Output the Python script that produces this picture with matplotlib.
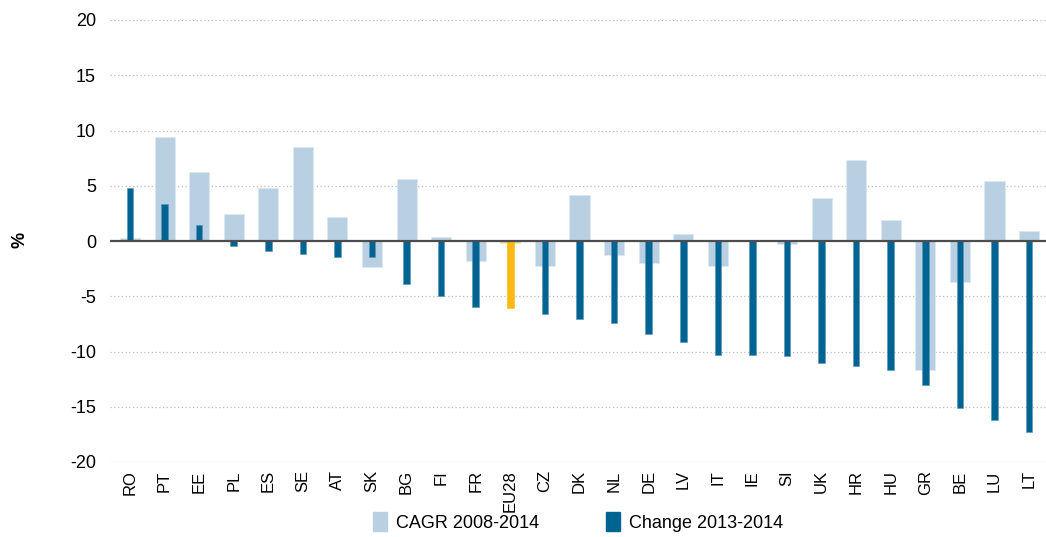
import numpy as np
import matplotlib.pyplot as plt
from matplotlib.patches import Patch

countries = ['RO', 'PT', 'EE', 'PL', 'ES', 'SE', 'AT', 'SK', 'BG', 'FI', 'FR', 'EU28', 'CZ',
             'DK', 'NL', 'DE', 'LV', 'IT', 'IE', 'SI', 'UK', 'HR', 'HU', 'GR', 'BE', 'LU', 'LT']
cagr_2008_2014 = [0.24, 9.45, 6.27, 2.42, 4.76, 8.48, 2.15, -2.36, 5.58, 0.36, -1.82, -0.18, -2.24,
                  4.2, -1.27, -1.96, 0.63, -2.24, 0.05, -0.3, 3.93, 7.34, 1.87, -11.7, -3.72, 5.4, 0.9]
change_2013_2014 = [4.76, 3.39, 1.48, -0.45, -0.88, -1.15, -1.42, -1.42, -3.9, -5.0, -5.94, -6.09, -6.6,
                    -7.04, -7.43, -8.4, -9.1, -10.3, -10.3, -10.45, -11.0, -11.3, -11.7, -13.05, -15.1, -16.2, -17.3]
y_ticks = [-20, -15, -10, -5, 0, 5, 10, 15, 20]

light_blue = '#B9D0E3'
dark_blue = '#006492'
yellow = '#FDB913'
light_yellow = '#FDD36A'

plt.rcParams['font.family'] = ['Liberation Sans Narrow', 'Liberation Sans', 'DejaVu Sans']

fig = plt.figure(figsize=(10.46, 5.37), dpi=100)
ax = fig.add_axes([110 / 1046, 1 - 462 / 537, 936 / 1046, 442 / 537])

x = np.arange(len(countries))
light_colors = [light_yellow if c == 'EU28' else light_blue for c in countries]
dark_colors = [yellow if c == 'EU28' else dark_blue for c in countries]
dark_edges = [yellow if c == 'EU28' else '#5B93B8' for c in countries]

ax.bar(x, cagr_2008_2014, width=0.58, color=light_colors, edgecolor='#DCE8F2', linewidth=0.6, zorder=2)
ax.bar(x, change_2013_2014, width=0.19, color=dark_colors, edgecolor=dark_edges, linewidth=0.4, zorder=3)

ax.set_ylim(-20, 20)
ax.set_xlim(-0.578, 26.49)
ax.set_yticks(y_ticks)
ax.set_yticklabels([str(t) for t in y_ticks], fontsize=13)
ax.set_xticks(x)
ax.set_xticklabels(countries, rotation=90, fontsize=12)
ax.tick_params(length=0)
ax.tick_params(axis='y', pad=10)
ax.tick_params(axis='x', pad=6)

for t in y_ticks:
    if t != 0:
        ax.axhline(t, color='#BDBDBD', linestyle=(0, (1, 2)), linewidth=0.9, zorder=1)
ax.axhline(0, color='#4D4D4D', linewidth=1.6, zorder=4)

for s in ax.spines.values():
    s.set_visible(False)

fig.text(20 / 1046, 1 - 240 / 537, '%', rotation=90, fontsize=13, fontweight='bold',
         ha='center', va='center')

handles = [Patch(color=light_blue, label='CAGR 2008-2014'),
           Patch(color=dark_blue, label='Change 2013-2014')]
fig.legend(handles=handles, loc='center', bbox_to_anchor=(578 / 1046, 1 - 522 / 537), ncol=2,
           frameon=False, fontsize=13, handlelength=0.8, handleheight=1.2, handletextpad=0.5,
           columnspacing=3.7)

fig.savefig('out.png', dpi=100)
